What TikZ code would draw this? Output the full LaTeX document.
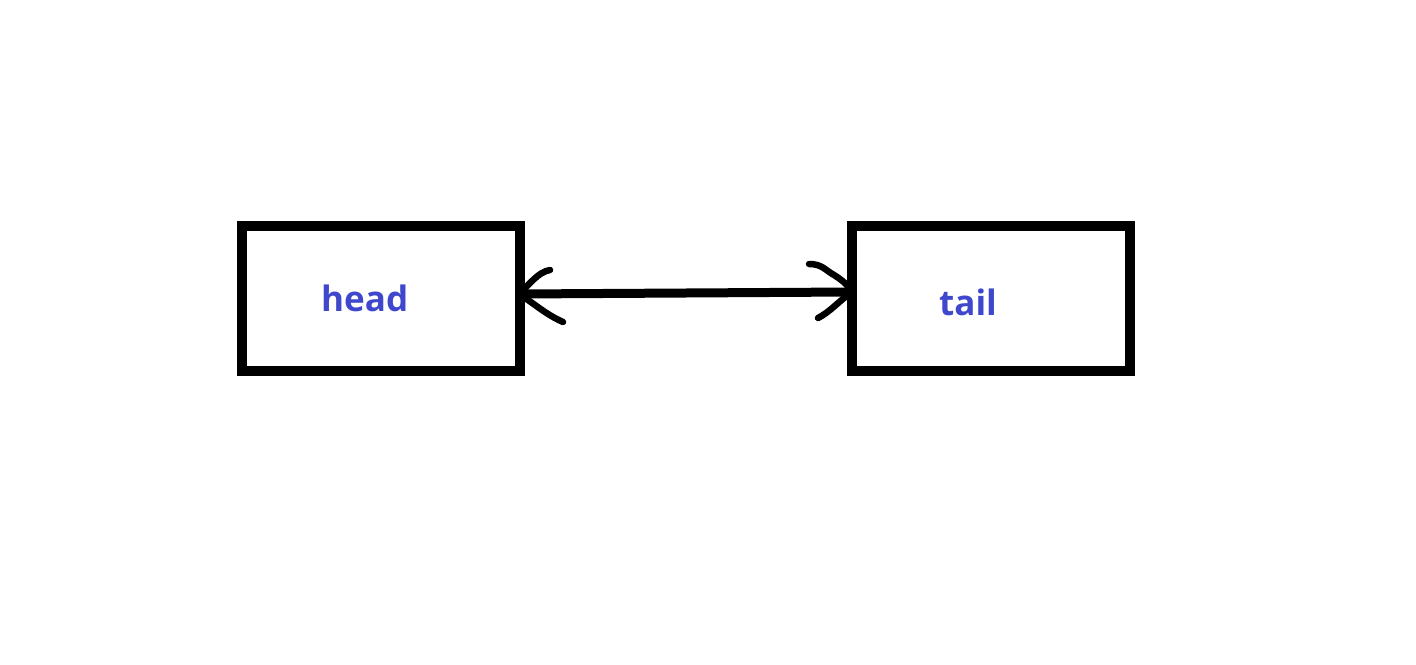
\documentclass[tikz,border=0pt]{standalone}
\usepackage{fontspec}
\setmainfont{Open Sans}
\definecolor{paintblue}{RGB}{63,72,204}
\begin{document}
\begin{tikzpicture}[x=1pt,y=-1pt,
  box/.style={draw=black,line width=10pt,minimum width=278pt,minimum height=145pt,inner sep=0pt},
  lbl/.style={text=paintblue,font=\fontsize{35}{40}\selectfont\bfseries,inner sep=0pt,anchor=base west},
  shaft/.style={line width=9pt},
  arm/.style={line width=6.5pt,line cap=round,line join=round}]
\useasboundingbox[fill=white] (0,0) rectangle (1416,664);
\node[box] (head) at (381,298.5) {};
\node[box] (tail) at (991,298.5) {};
\node[lbl] (headlbl) at (321,311) {head};
\node[lbl] (taillbl) at (939,315) {tail};
\coordinate (lt) at (519,294);
\coordinate (rt) at (852,292);
\draw[shaft] (lt) -- (rt);
\draw[arm] (lt) .. controls (530,284) and (538,272) .. (550,270);
\draw[arm] (lt) .. controls (535,304) and (545,314) .. (563,322);
\draw[arm] (809,264) .. controls (822,264) and (825,270) .. (834,275) .. controls (842,280) and (848,285) .. (rt);
\draw[arm] (818,318) .. controls (830,312) and (840,300) .. (rt);
\end{tikzpicture}
\end{document}
